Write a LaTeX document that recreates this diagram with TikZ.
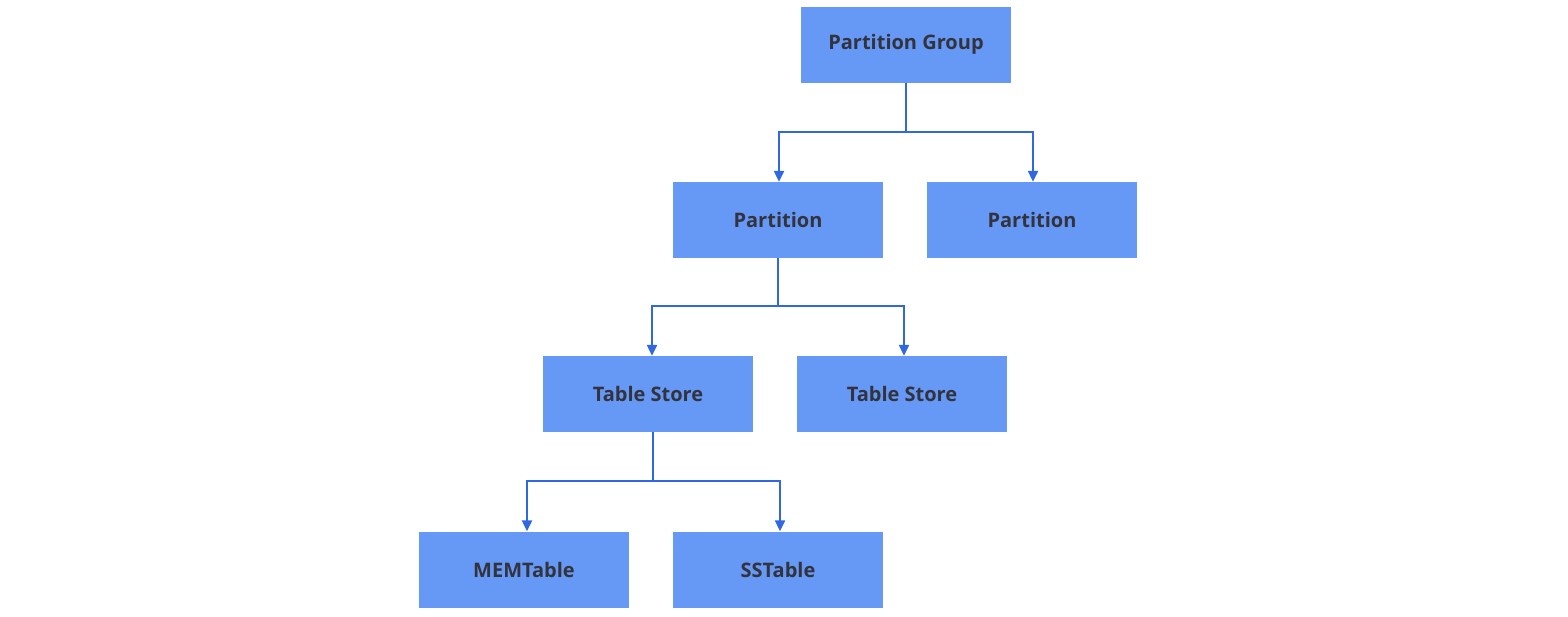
\documentclass[tikz,border=0pt]{standalone}
\usepackage{fontspec}
\setmainfont{Open Sans}
\usetikzlibrary{arrows.meta,calc}
\definecolor{boxfill}{RGB}{102,153,245}
\definecolor{linecol}{RGB}{47,104,224}
\definecolor{txt}{RGB}{51,51,61}
\begin{document}
\begin{tikzpicture}[x=1pt,y=-1pt,
  box/.style={fill=boxfill,draw=none,minimum width=210pt,minimum height=76pt,inner sep=0pt,
    font=\fontsize{20}{24}\selectfont\bfseries,text=txt},
  conn/.style={draw=linecol,line width=2.2pt},
  arr/.style={conn,-{Triangle[width=10pt,length=11pt]}}]
\useasboundingbox (0,0) rectangle (1568,616);
\node[box] (pg) at (906,44.5) {Partition Group};
\node[box] (p1) at (778,220) {Partition};
\node[box] (p2) at (1032,220) {Partition};
\node[box] (t1) at (648,394) {Table Store};
\node[box] (t2) at (902,394) {Table Store};
\node[box] (m) at (524,569.5) {MEMTable};
\node[box] (s) at (778,569.5) {SSTable};
% level 1
\coordinate (j1) at ($(pg.south)+(0,49)$);
\draw[conn] (pg.south) -- (j1);
\draw[arr] (j1) -| ($(p1.north)+(1,0)$);
\draw[arr] (j1) -| ($(p2.north)+(1,0)$);
% level 2
\coordinate (j2) at ($(p1.south)+(0,48)$);
\draw[conn] (p1.south) -- (j2);
\draw[arr] (j2) -| ($(t1.north)+(4,0)$);
\draw[arr] (j2) -| ($(t2.north)+(2,0)$);
% level 3
\coordinate (j3) at ($(t1.south)+(5,49)$);
\draw[conn] ($(t1.south)+(5,0)$) -- (j3);
\draw[arr] (j3) -| ($(m.north)+(3,0)$);
\draw[arr] (j3) -| ($(s.north)+(2,0)$);
\end{tikzpicture}
\end{document}
